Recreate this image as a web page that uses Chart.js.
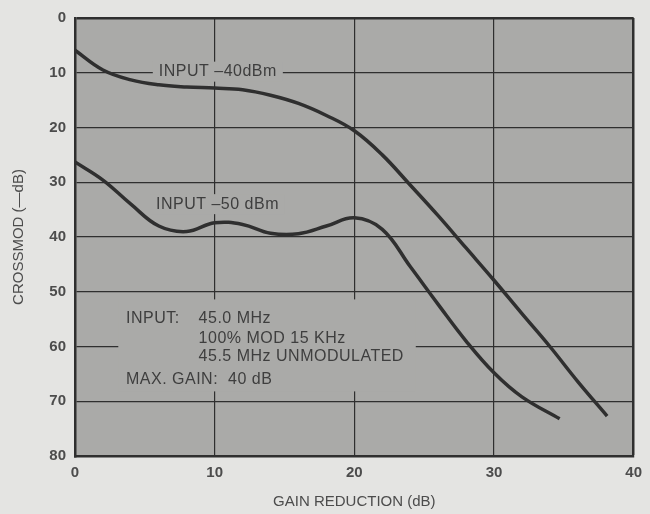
<!DOCTYPE html>
<html>
<head>
<meta charset="utf-8">
<script src="https://cdn.jsdelivr.net/npm/chart.js@4"></script>
<style>
  body { margin: 0; background: #e4e4e2; }
  #wrap { width: 650px; height: 514px; }
</style>
</head>
<body>
<div id="wrap"><canvas id="crossmodChart" width="650" height="514"></canvas></div>
<script>
// Values
const gainHigh = [0, 2, 4, 6, 8, 10, 12, 14, 16, 18, 20, 22, 24, 26, 28, 30, 32, 34, 36, 38.1];
const crossmodHigh = [5.9, 9.5, 11.3, 12.2, 12.6, 12.8, 13.1, 14.1, 15.6, 17.8, 20.6, 25.0, 30.5, 36.1, 42.0, 47.9, 54.0, 60.0, 66.4, 72.7];
const gainLow = [0, 2, 4, 6, 8, 10, 12, 14, 16, 18, 20, 22, 24, 26, 28, 30, 32, 34.7];
const crossmodLow = [26.3, 29.6, 34.0, 38.0, 39.0, 37.4, 37.7, 39.3, 39.4, 38.0, 36.5, 38.6, 45.4, 52.3, 59.0, 64.8, 69.2, 73.2];
const xTicks = [0, 10, 20, 30, 40];
const yTicks = [0, 10, 20, 30, 40, 50, 60, 70, 80];
const curveLabels = ["INPUT \u201340dBm", "INPUT \u201350 dBm"];
const noteLines = ["45.0 MHz", "100% MOD 15 KHz", "45.5 MHz UNMODULATED"];

const plotBg = "#aaaaa8";
const ink = "#2f2f2f";
const textInk = "#3e3e3e";

function toPoints(xs, ys) {
  return xs.map((x, i) => ({ x: x, y: ys[i] }));
}

// Plot background
const plotBackground = {
  id: "plotBackground",
  beforeDraw(chart) {
    const { ctx, chartArea } = chart;
    ctx.save();
    ctx.fillStyle = plotBg;
    ctx.fillRect(chartArea.left, chartArea.top, chartArea.right - chartArea.left, chartArea.bottom - chartArea.top);
    ctx.restore();
  },
};

// Labels inside the plot, with a patch behind them that hides the grid
const plotNotes = {
  id: "plotNotes",
  beforeDatasetsDraw(chart) {
    const { ctx } = chart;
    const xs = chart.scales.x;
    const ys = chart.scales.y;
    const px = (v) => xs.getPixelForValue(v);
    const py = (v) => ys.getPixelForValue(v);

    ctx.save();
    ctx.font = "16px 'Liberation Sans', Arial, sans-serif";
    ctx.letterSpacing = "0.5px";
    ctx.textBaseline = "middle";

    // curve labels
    const spots = [
      { x: 6, y: 9.8 },
      { x: 5.8, y: 34.0 },
    ];
    curveLabels.forEach((t, i) => {
      const w = ctx.measureText(t).width;
      const lx = px(spots[i].x);
      const ly = py(spots[i].y);
      ctx.fillStyle = plotBg;
      ctx.fillRect(lx - 6, ly - 10, w + 12, 20);
      ctx.fillStyle = textInk;
      ctx.fillText(t, lx, ly);
    });

    // note block
    ctx.fillStyle = plotBg;
    ctx.fillRect(px(3.1), py(51.4), px(24.4) - px(3.1), py(68.2) - py(51.4));
    ctx.fillStyle = textInk;
    ctx.fillText("INPUT:", px(3.65), py(54.9));
    const lineY = [54.9, 58.5, 61.9];
    noteLines.forEach((t, i) => ctx.fillText(t, px(8.85), py(lineY[i])));
    ctx.fillText("MAX. GAIN:  40 dB", px(3.65), py(66.1));
    ctx.restore();
  },
};

const tickFont = { family: "'Liberation Sans', Arial, sans-serif", size: 15, weight: "bold" };
const titleFont = { family: "'Liberation Sans', Arial, sans-serif", size: 15 };

new Chart(document.getElementById("crossmodChart"), {
  type: "line",
  data: {
    datasets: [
      {
        label: curveLabels[0],
        data: toPoints(gainHigh, crossmodHigh),
        borderColor: ink,
        borderWidth: 3.5,
        pointRadius: 0,
        tension: 0.4,
        fill: false,
      },
      {
        label: curveLabels[1],
        data: toPoints(gainLow, crossmodLow),
        borderColor: ink,
        borderWidth: 3.5,
        pointRadius: 0,
        tension: 0.4,
        fill: false,
      },
    ],
  },
  options: {
    responsive: false,
    animation: false,
    layout: { padding: { top: 12, right: 13, left: 0, bottom: 0 } },
    plugins: {
      legend: { display: false },
      tooltip: { enabled: false },
    },
    scales: {
      x: {
        type: "linear",
        min: 0,
        max: 40,
        afterBuildTicks: (scale) => { scale.ticks = xTicks.map((v) => ({ value: v })); },
        afterFit: (scale) => { scale.height = 58; },
        grid: {
          color: ink,
          lineWidth: (c) => (c.tick && c.tick.value === 40 ? 2.5 : 1.2),
          drawTicks: false,
        },
        border: { color: ink, width: 2.5 },
        ticks: { color: "#4c4c4c", font: tickFont, padding: 8, maxRotation: 0 },
        title: {
          display: true,
          text: "GAIN REDUCTION (dB)",
          color: "#4c4c4c",
          font: titleFont,
          padding: { top: 0, bottom: 3 },
        },
      },
      y: {
        type: "linear",
        min: 0,
        max: 80,
        reverse: true,
        afterBuildTicks: (scale) => { scale.ticks = yTicks.map((v) => ({ value: v })); },
        afterFit: (scale) => { scale.width = 75; },
        grid: {
          color: ink,
          lineWidth: (c) => (c.tick && c.tick.value === 0 ? 2.5 : 1.2),
          drawTicks: false,
        },
        border: { color: ink, width: 2.5 },
        ticks: { color: "#4c4c4c", font: tickFont, padding: 9 },
        title: {
          display: true,
          text: "CROSSMOD (\u2014dB)",
          color: "#4c4c4c",
          font: titleFont,
          padding: { top: 10, bottom: 0 },
        },
      },
    },
  },
  plugins: [plotBackground, plotNotes],
});
</script>
</body>
</html>
